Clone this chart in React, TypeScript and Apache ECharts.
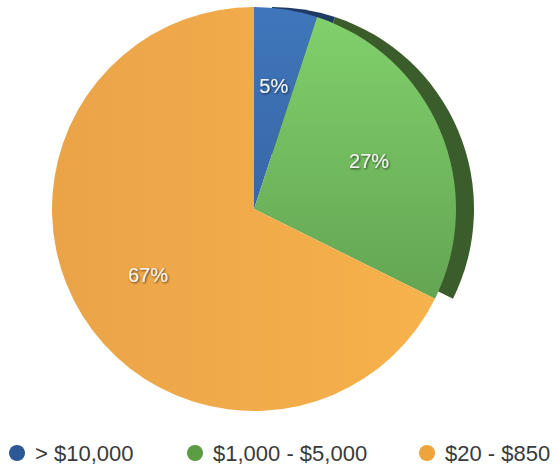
import React, { useEffect, useRef } from "react";
import * as echarts from "echarts";

const categories = ["> $10,000", "$1,000 - $5,000", "$20 - $850"];
const shares = [5, 27, 67];
const legendColors = ["#2c5896", "#5b9c44", "#eda43a"];
const sliceColors = [
  ["#3f76bb", "#3867a8"],
  ["#80d06c", "#64a552"],
  ["#f6b24c", "#eba348"],
];
const edgeColors = ["#1f3a63", "#3b5d2b", "rgba(0,0,0,0)"];

export default function App() {
  const ref = useRef<HTMLDivElement>(null);
  useEffect(() => {
    document.body.style.margin = "0";
    if (!ref.current) return;
    const chart = echarts.init(ref.current, null, { renderer: "svg" });
    const center = [254, 209];
    const radius = 202;
    const mainData = categories.map((name, i) => ({
      name,
      value: shares[i],
      itemStyle: {
        color: new echarts.graphic.LinearGradient(i === 2 ? 1 : 0, 0, 0, i === 2 ? 0 : 1, [
          { offset: 0, color: sliceColors[i][0] },
          { offset: 1, color: sliceColors[i][1] },
        ]),
      },
    }));
    const edgeData = categories.map((name, i) => ({
      name,
      value: shares[i],
      itemStyle: { color: edgeColors[i] },
    }));
    const legends = categories.map((name, i) => ({
      show: true,
      left: [9, 187, 419][i],
      top: 440,
      icon: "circle",
      itemWidth: 16,
      itemHeight: 16,
      padding: 0,
      selectedMode: false,
      data: [{ name, itemStyle: { color: legendColors[i] } }],
      textStyle: {
        fontFamily: "Liberation Sans, Arial, sans-serif",
        fontSize: 22,
        lineHeight: 26,
        color: "#3a3a3a",
        padding: [0, 0, 0, 5],
      },
    }));
    chart.setOption({
      animation: false,
      legend: legends,
      series: [
        {
          type: "pie",
          z: 1,
          center: [center[0] + 18, center[1]],
          radius,
          startAngle: 90,
          silent: true,
          label: { show: false },
          labelLine: { show: false },
          data: edgeData,
        },
        {
          type: "pie",
          z: 2,
          center,
          radius,
          startAngle: 90,
          silent: true,
          itemStyle: { borderWidth: 0 },
          label: {
            show: true,
            position: "inside",
            formatter: (p: any) => `${p.value}%`,
            fontFamily: "Liberation Sans, Arial, sans-serif",
            fontSize: 20,
            color: "#f4f4f4",
            textShadowColor: "rgba(0,0,0,0.65)",
            textShadowBlur: 2,
            textShadowOffsetX: 1,
            textShadowOffsetY: 1,
          },
          labelLayout: (p: any) => {
            const r = p.labelRect;
            const cx = r.x + r.width / 2;
            const cy = r.y + r.height / 2;
            return { dx: (cx - center[0]) * 0.2, dy: (cy - center[1]) * 0.2 };
          },
          labelLine: { show: false },
          data: mainData,
        },
      ],
    });
    return () => chart.dispose();
  }, []);
  return <div ref={ref} style={{ width: 560, height: 468 }} />;
}
